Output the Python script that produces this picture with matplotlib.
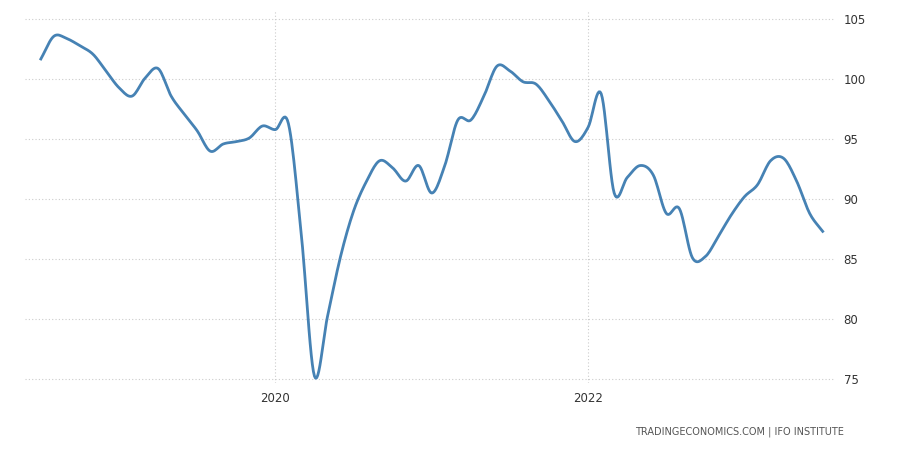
import numpy as np
import matplotlib
matplotlib.use("Agg")
import matplotlib.pyplot as plt

start_year = 2018
start_month = 7
values = [101.7,103.6,103.4,102.8,102.1,100.7,99.3,98.6,100.1,100.9,98.6,97.1,95.7,94.0,94.6,94.8,95.1,96.1,
          95.8,96.3,86.9,75.2,80.2,85.2,89.0,91.5,93.2,92.6,91.5,92.8,90.5,92.8,96.6,96.6,98.6,101.1,100.7,99.8,
          99.6,98.2,96.5,94.8,96.0,98.8,90.5,91.8,92.8,92.0,88.8,89.2,85.1,85.2,86.9,88.7,90.2,91.2,93.2,93.4,
          91.5,88.8,87.3]
yticks = [75, 80, 85, 90, 95, 100, 105]
xtick_years = [2020, 2022]

t = np.array([start_year + (start_month - 1 + i) / 12 for i in range(len(values))])
v = np.array(values)

# Catmull-Rom smoothing for display
def smooth(x, y, n=12):
    xp = np.concatenate([[2*x[0]-x[1]], x, [2*x[-1]-x[-2]]])
    yp = np.concatenate([[2*y[0]-y[1]], y, [2*y[-1]-y[-2]]])
    xs, ys = [], []
    s = np.linspace(0, 1, n, endpoint=False)
    for i in range(1, len(xp)-2):
        for arr, out in ((xp, xs), (yp, ys)):
            p0, p1, p2, p3 = arr[i-1:i+3]
            out.extend(0.5*((2*p1) + (-p0+p2)*s + (2*p0-5*p1+4*p2-p3)*s**2 + (-p0+3*p1-3*p2+p3)*s**3))
    xs.append(x[-1]); ys.append(y[-1])
    return np.array(xs), np.array(ys)

xs, ys = smooth(t, v)

fig = plt.figure(figsize=(9, 4.5), dpi=100)
ax = fig.add_axes([0.028, 0.148, 0.9, 0.83])
ax.plot(xs, ys, color="#4682b4", lw=2)
ax.set_ylim(74.6, 105.8)
ax.set_xlim(t[0] - 0.1, t[-1] + 0.08)
ax.set_yticks(yticks)
ax.set_xticks(xtick_years)
ax.yaxis.tick_right()
ax.tick_params(axis="both", length=0, labelsize=8.5, colors="#333333", pad=6)
ax.grid(True, color="#cccccc", linestyle=(0, (1, 2)), lw=0.8)
for s in ["top", "left", "right"]:
    ax.spines[s].set_visible(False)
ax.spines["bottom"].set_visible(False)
fig.text(0.938, 0.035, "TRADINGECONOMICS.COM | IFO INSTITUTE", ha="right", fontsize=7, color="#555555")
fig.savefig("out.png")
